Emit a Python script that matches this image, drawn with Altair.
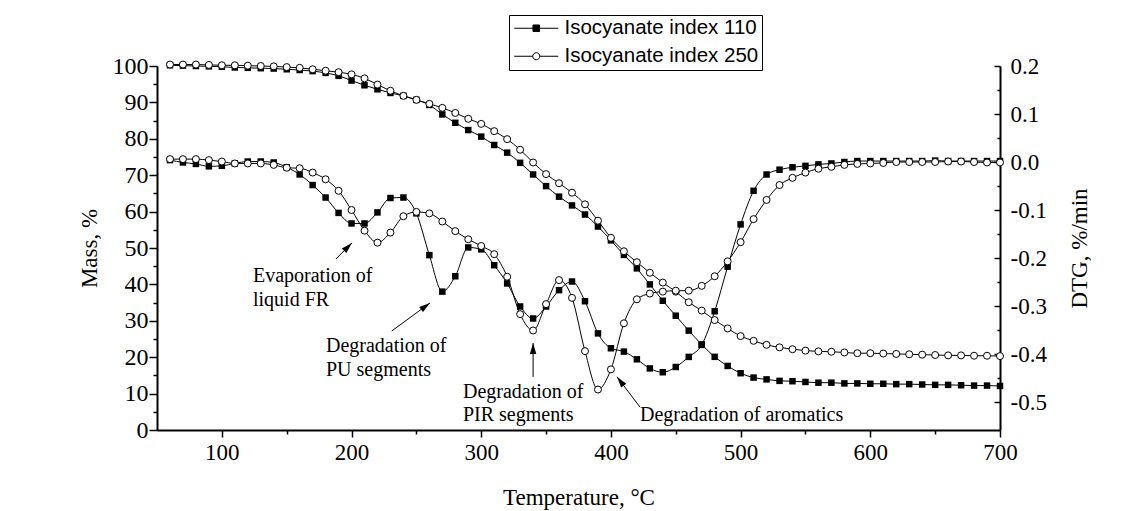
import math

import altair as alt
import pandas as pd

# ---- measured data (markers every 10 degC) ----
temperature = list(range(60, 701, 10))

mass_110 = [
    100.2, 100.1, 100.0, 99.9, 99.8, 99.6, 99.5, 99.4, 99.3, 99.1,
    98.9, 98.6, 98.1, 97.3, 96.0, 94.7, 93.6, 92.6, 91.8, 90.7,
    89.3, 86.7, 84.4, 82.4, 80.6, 78.3, 76.2, 73.4, 70.2, 67.0,
    64.1, 61.7, 59.2, 55.9, 52.1, 48.1, 44.4, 40.0, 35.5, 31.4,
    27.3, 23.5, 20.1, 17.6, 15.6, 14.4, 13.9, 13.5, 13.4, 13.2,
    13.0, 13.0, 12.8, 12.8, 12.7, 12.7, 12.6, 12.6, 12.5, 12.4,
    12.4, 12.3, 12.2, 12.2, 12.1,
]
mass_250 = [
    100.4, 100.4, 100.4, 100.3, 100.2, 100.2, 100.1, 100.0, 99.9, 99.7,
    99.5, 99.1, 98.7, 98.3, 97.7, 96.6, 94.9, 93.2, 91.8, 90.7,
    89.6, 88.5, 87.1, 85.5, 84.1, 82.1, 79.9, 77.0, 73.5, 70.3,
    67.8, 65.2, 62.0, 57.5, 52.8, 49.1, 46.1, 43.2, 40.5, 38.0,
    35.1, 32.8, 30.2, 27.9, 25.8, 24.5, 23.4, 22.7, 22.2, 21.8,
    21.6, 21.5, 21.3, 21.1, 21.1, 21.0, 20.9, 20.8, 20.7, 20.6,
    20.5, 20.5, 20.4, 20.4, 20.3,
]
dtg_110 = [
    0.004, -0.001, -0.004, -0.009, -0.008, -0.003, 0.001, 0.001, -0.001, -0.011,
    -0.026, -0.048, -0.074, -0.106, -0.128, -0.128, -0.105, -0.075, -0.074, -0.107,
    -0.194, -0.270, -0.238, -0.178, -0.182, -0.215, -0.253, -0.301, -0.326, -0.301,
    -0.267, -0.249, -0.290, -0.357, -0.388, -0.395, -0.411, -0.430, -0.438, -0.427,
    -0.406, -0.381, -0.311, -0.218, -0.130, -0.060, -0.026, -0.016, -0.011, -0.008,
    -0.005, -0.003, 0.000, 0.002, 0.002, 0.002, 0.002, 0.002, 0.002, 0.003,
    0.002, 0.002, 0.002, 0.002, 0.002,
]
dtg_250 = [
    0.006, 0.006, 0.006, 0.004, 0.001, -0.003, -0.003, -0.003, -0.006, -0.012,
    -0.013, -0.022, -0.036, -0.060, -0.100, -0.143, -0.168, -0.147, -0.113, -0.104,
    -0.107, -0.124, -0.144, -0.161, -0.175, -0.192, -0.239, -0.317, -0.351, -0.296,
    -0.246, -0.283, -0.394, -0.474, -0.432, -0.336, -0.286, -0.274, -0.270, -0.268,
    -0.268, -0.258, -0.238, -0.207, -0.167, -0.119, -0.079, -0.048, -0.033, -0.022,
    -0.014, -0.010, -0.006, -0.004, -0.003, -0.002, 0.000, 0.000, 0.000, 0.000,
    0.001, 0.001, 0.000, -0.001, -0.001,
]

series_names = ["Isocyanate index 110", "Isocyanate index 250"]

# annotation text lines, anchored in (temperature, mass) coordinates
note_text = ["Evaporation of", "liquid FR", "Degradation of", "PU segments",
             "Degradation of", "PIR segments", "Degradation of aromatics"]
note_temp = [124.0, 124.0, 180.3, 180.3, 285.9, 285.9, 422.4]
note_mass = [40.7, 34.1, 21.4, 14.8, 8.8, 2.4, 2.4]

# arrows: tail -> head, in (temperature, mass) coordinates
arrow_t0 = [188.0, 231.0, 340.0, 422.4]
arrow_m0 = [47.0, 27.2, 14.6, 6.3]
arrow_t1 = [200.3, 260.5, 340.0, 404.7]
arrow_m1 = [51.4, 34.9, 23.9, 14.6]

# ---- layout constants ----
W, H = 843, 364
T_DOMAIN = [50, 700]
MASS_DOMAIN = [0, 100]
DTG_DOMAIN = [-0.5583, 0.2]
SERIF = "Liberation Serif"
SANS = "Liberation Sans"
TICK_FONT = 23

n = len(temperature)
mass_df = pd.DataFrame({
    "T": temperature * 2,
    "v": mass_110 + mass_250,
    "series": [series_names[0]] * n + [series_names[1]] * n,
})
dtg_df = pd.DataFrame({
    "T": temperature * 2,
    "v": dtg_110 + dtg_250,
    "series": [series_names[0]] * n + [series_names[1]] * n,
})

notes_df = pd.DataFrame({"text": note_text, "T": note_temp, "m": note_mass})


def arrow_angle(t0, m0, t1, m1):
    dx = (t1 - t0) * W / (T_DOMAIN[1] - T_DOMAIN[0])
    dy_up = (m1 - m0) * H / (MASS_DOMAIN[1] - MASS_DOMAIN[0])
    return math.degrees(math.atan2(dx, dy_up)) % 360


arrows_df = pd.DataFrame({
    "t0": arrow_t0, "m0": arrow_m0, "t1": arrow_t1, "m1": arrow_m1,
    "angle": [arrow_angle(*a) for a in zip(arrow_t0, arrow_m0, arrow_t1, arrow_m1)],
})

t_scale = alt.Scale(domain=T_DOMAIN, nice=False, zero=False)
mass_scale = alt.Scale(domain=MASS_DOMAIN, nice=False, zero=False)
dtg_scale = alt.Scale(domain=DTG_DOMAIN, nice=False, zero=False)

common_axis = dict(grid=False, labelFlush=False, labelOverlap=False,
                   tickColor="black", tickWidth=1.5, domainColor="black",
                   domainWidth=2, labelColor="black", titleColor="black")

x_major_axis = alt.Axis(
    orient="bottom", values=list(range(100, 701, 100)), tickSize=7,
    labelFont=SERIF, labelFontSize=TICK_FONT, labelPadding=4,
    title="Temperature, °C", titleFont=SERIF, titleFontSize=TICK_FONT,
    titleFontWeight="normal", titleX=W / 2, titleY=74, titleAlign="center",
    titleBaseline="alphabetic", **common_axis)
x_minor_axis = alt.Axis(
    orient="bottom", values=list(range(150, 700, 100)), tickSize=4,
    labels=False, domain=False, title=None, grid=False,
    tickColor="black", tickWidth=1.5)

y_mass_major = alt.Axis(
    orient="left", values=list(range(0, 101, 10)), tickSize=8,
    labelFont=SERIF, labelFontSize=TICK_FONT + 1, labelPadding=1,
    title="Mass, %", titleFont=SERIF, titleFontSize=TICK_FONT,
    titleFontWeight="normal", titleAngle=270, titleX=-68, titleY=H / 2,
    titleAlign="center", titleBaseline="middle", **common_axis)
y_mass_minor = alt.Axis(
    orient="left", values=list(range(5, 100, 10)), tickSize=4,
    labels=False, domain=False, title=None, grid=False,
    tickColor="black", tickWidth=1.5)

dtg_major_vals = [-0.5, -0.4, -0.3, -0.2, -0.1, 0.0, 0.1, 0.2]
dtg_minor_vals = [-0.45, -0.35, -0.25, -0.15, -0.05, 0.05, 0.15]

y_dtg_labels = alt.Axis(
    orient="right", values=dtg_major_vals, ticks=False, tickSize=0,
    labelFont=SERIF, labelFontSize=TICK_FONT, labelPadding=10,
    labelExpr="(datum.value < -0.001 ? '-' : '') + format(abs(datum.value), '.1f')",
    title="DTG, %/min", titleFont=SERIF, titleFontSize=TICK_FONT,
    titleFontWeight="normal", titleAngle=270, titleX=79, titleY=H / 2,
    titleAlign="center", titleBaseline="middle", **common_axis)
# inward-pointing ticks along the right edge
y_dtg_major_ticks = alt.Axis(
    orient="left", offset=-W, values=dtg_major_vals, tickSize=6,
    labels=False, domain=False, title=None, grid=False,
    tickColor="black", tickWidth=1.5)
y_dtg_minor_ticks = alt.Axis(
    orient="left", offset=-W, values=dtg_minor_vals, tickSize=3,
    labels=False, domain=False, title=None, grid=False,
    tickColor="black", tickWidth=1.5)


def x_enc(axis=None):
    if axis is None:
        return alt.X("T:Q", scale=t_scale, axis=None)
    return alt.X("T:Q", scale=t_scale, axis=axis)


line_style = dict(color="black", strokeWidth=1, interpolate="monotone")
square_style = dict(shape="square", filled=True, fill="black", size=42,
                    opacity=1, strokeWidth=0)
circle_style = dict(shape="circle", filled=True, fill="white", stroke="black",
                    strokeWidth=1, size=49, opacity=1)

# ---- mass (TGA) curves ----
mass_lines = alt.Chart(mass_df).mark_line(**line_style).encode(
    x=x_enc(x_major_axis),
    y=alt.Y("v:Q", scale=mass_scale, axis=y_mass_major),
    detail="series:N",
)

mass_points = alt.layer(
    alt.Chart(mass_df).transform_filter(
        alt.datum.series == series_names[0]).mark_point(**square_style),
    alt.Chart(mass_df).transform_filter(
        alt.datum.series == series_names[1]).mark_point(**circle_style),
).encode(
    x=x_enc(x_minor_axis),
    y=alt.Y("v:Q", scale=mass_scale, axis=y_mass_minor),
)

# ---- DTG curves ----
dtg_lines = alt.Chart(dtg_df).mark_line(**line_style).encode(
    x=x_enc(),
    y=alt.Y("v:Q", scale=dtg_scale, axis=y_dtg_labels),
    detail="series:N",
)
dtg_points_110 = alt.Chart(dtg_df).transform_filter(
    alt.datum.series == series_names[0]).mark_point(**square_style).encode(
    x=x_enc(),
    y=alt.Y("v:Q", scale=dtg_scale, axis=y_dtg_major_ticks),
)
dtg_points_250 = alt.Chart(dtg_df).transform_filter(
    alt.datum.series == series_names[1]).mark_point(**circle_style).encode(
    x=x_enc(),
    y=alt.Y("v:Q", scale=dtg_scale, axis=y_dtg_minor_ticks),
)

# ---- annotations ----
notes = alt.Chart(notes_df).mark_text(
    align="left", baseline="alphabetic", font=SERIF, fontSize=20, color="black"
).encode(
    x=x_enc(),
    y=alt.Y("m:Q", scale=mass_scale, axis=None),
    text="text:N",
)
arrow_lines = alt.Chart(arrows_df).mark_rule(color="black", strokeWidth=1).encode(
    x=alt.X("t0:Q", scale=t_scale, axis=None),
    y=alt.Y("m0:Q", scale=mass_scale, axis=None),
    x2="t1:Q",
    y2="m1:Q",
)
ARROW_HEAD = "M0,0L0.35,1.2L-0.35,1.2Z"
arrow_heads = alt.Chart(arrows_df).mark_point(
    shape=ARROW_HEAD, filled=True, fill="black", size=340, opacity=1, strokeWidth=0
).encode(
    x=alt.X("t1:Q", scale=t_scale, axis=None),
    y=alt.Y("m1:Q", scale=mass_scale, axis=None),
    angle=alt.Angle("angle:Q", scale=None),
)
annotations = alt.layer(notes, arrow_lines, arrow_heads)

# ---- legend (line with marker symbols) ----
# symbol paths reach beyond the unit box so the entry height stays small
SQUARE_SYMBOL = "M-2.75,0H2.75M-0.41,-0.41H0.41V0.41H-0.41Z"
CIRCLE_SYMBOL = ("M-2.75,0H-0.44M0.44,0H2.75M0.44,0A0.44,0.44,0,1,1,-0.44,0"
                 "A0.44,0.44,0,1,1,0.44,0Z")
legend = alt.Legend(
    orient="none", legendX=352, legendY=-51, title=None,
    strokeColor="black", fillColor="white", padding=3,
    labelFont=SANS, labelFontSize=20.5, labelColor="black", labelOffset=18,
    labelLimit=400, symbolOffset=14,
    symbolSize=256, symbolStrokeColor="black", symbolStrokeWidth=1,
    symbolOpacity=1, rowPadding=7,
)
legend_df = pd.DataFrame({"series": series_names})
legend_layer = alt.Chart(legend_df).transform_filter("false").mark_point(
    filled=True, strokeWidth=1, opacity=1
).encode(
    shape=alt.Shape("series:N", scale=alt.Scale(domain=series_names,
                    range=[SQUARE_SYMBOL, CIRCLE_SYMBOL]), legend=legend),
    fill=alt.Fill("series:N", scale=alt.Scale(domain=series_names,
                  range=["black", "white"]), legend=legend),
    stroke=alt.Stroke("series:N", scale=alt.Scale(domain=series_names,
                      range=["black", "black"]), legend=legend),
)

chart = alt.layer(
    mass_lines, dtg_lines, mass_points, dtg_points_110, dtg_points_250,
    annotations, legend_layer,
).resolve_scale(
    x="independent", y="independent"
).resolve_axis(
    x="independent", y="independent"
).properties(
    width=W, height=H,
    autosize=alt.AutoSizeParams(type="none"),
    padding={"left": 157, "top": 66, "right": 138, "bottom": 81},
    background="white",
).configure_view(strokeWidth=0)

chart.save("out.html", embed_options={"renderer": "svg", "actions": False})
